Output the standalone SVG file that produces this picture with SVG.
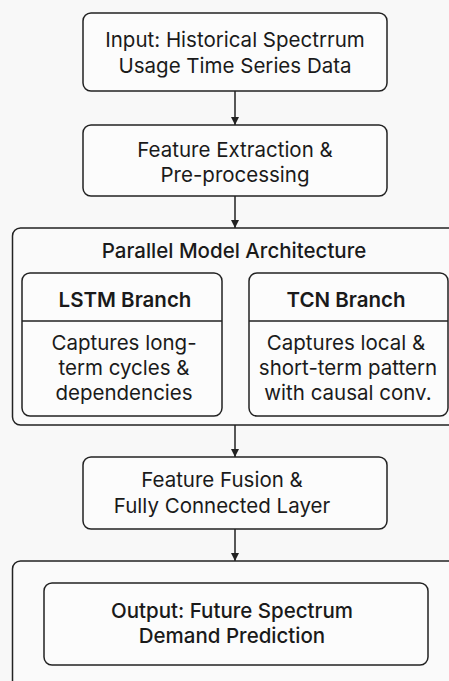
<svg xmlns="http://www.w3.org/2000/svg" width="449" height="681" viewBox="0 0 449 681">
  <style>
    .box { fill: #fcfcfc; stroke: #222; stroke-width: 1.5; }
    .wrap { fill: #fafafa; stroke: #222; stroke-width: 1.5; }
    .line { stroke: #222; stroke-width: 1.5; fill: none; }
    text { font-family: Inter, "Liberation Sans", sans-serif; font-size: 20.5px; fill: #1a1a1a; text-anchor: middle; }
    .medium { font-weight: 500; }
    .bold { font-weight: 600; }
  </style>
  <defs>
    <marker id="arrow" viewBox="0 0 10 10" refX="10" refY="5" markerWidth="8" markerHeight="8" markerUnits="userSpaceOnUse" orient="auto">
      <path d="M0,0 L10,5 L0,10 Z" fill="#222"/>
    </marker>
  </defs>

  <rect width="449" height="681" fill="#f8f8f8"/>

  <g id="input">
    <rect class="box" x="83" y="13" width="304" height="78" rx="8"/>
    <text x="235" y="47">Input: Historical Spectrrum</text>
    <text x="235" y="73">Usage Time Series Data</text>
  </g>

  <g id="preprocess">
    <rect class="box" x="83" y="125" width="304" height="71" rx="8"/>
    <text x="235" y="157">Feature Extraction &amp;</text>
    <text x="235" y="182">Pre-processing</text>
  </g>

  <g id="parallel">
    <rect class="wrap" x="12.5" y="228" width="450" height="197" rx="8"/>
    <text class="medium" x="234" y="258">Parallel Model Architecture</text>
  </g>

  <g id="lstm">
    <rect class="box" x="22" y="273" width="200" height="143" rx="8"/>
    <line class="line" x1="22" y1="321" x2="222" y2="321"/>
    <text class="bold" x="125" y="307">LSTM Branch</text>
    <text x="124" y="350">Captures long-</text>
    <text x="124" y="375">term cycles &amp;</text>
    <text x="124" y="400">dependencies</text>
  </g>

  <g id="tcn">
    <rect class="box" x="249" y="273" width="199" height="143" rx="8"/>
    <line class="line" x1="249" y1="321" x2="448" y2="321"/>
    <text class="bold" x="346" y="307">TCN Branch</text>
    <text x="346" y="350">Captures local &amp;</text>
    <text x="348" y="375">short-term pattern</text>
    <text x="348" y="400">with causal conv.</text>
  </g>

  <g id="fusion">
    <rect class="box" x="83" y="457" width="304" height="72" rx="8"/>
    <text x="222" y="487">Feature Fusion &amp;</text>
    <text x="222" y="513">Fully Connected Layer</text>
  </g>

  <g id="output-frame">
    <rect class="wrap" x="12.5" y="561" width="450" height="140" rx="8"/>
  </g>

  <g id="output">
    <rect class="box" x="44" y="583" width="384" height="82" rx="8"/>
    <text class="medium" x="232" y="618">Output: Future Spectrum</text>
    <text class="medium" x="232" y="643">Demand Prediction</text>
  </g>

  <g id="connectors">
    <line class="line" x1="235" y1="91" x2="235" y2="125" marker-end="url(#arrow)"/>
    <line class="line" x1="235" y1="196" x2="235" y2="228" marker-end="url(#arrow)"/>
    <line class="line" x1="235" y1="425" x2="235" y2="457" marker-end="url(#arrow)"/>
    <line class="line" x1="235" y1="529" x2="235" y2="561" marker-end="url(#arrow)"/>
  </g>
</svg>
